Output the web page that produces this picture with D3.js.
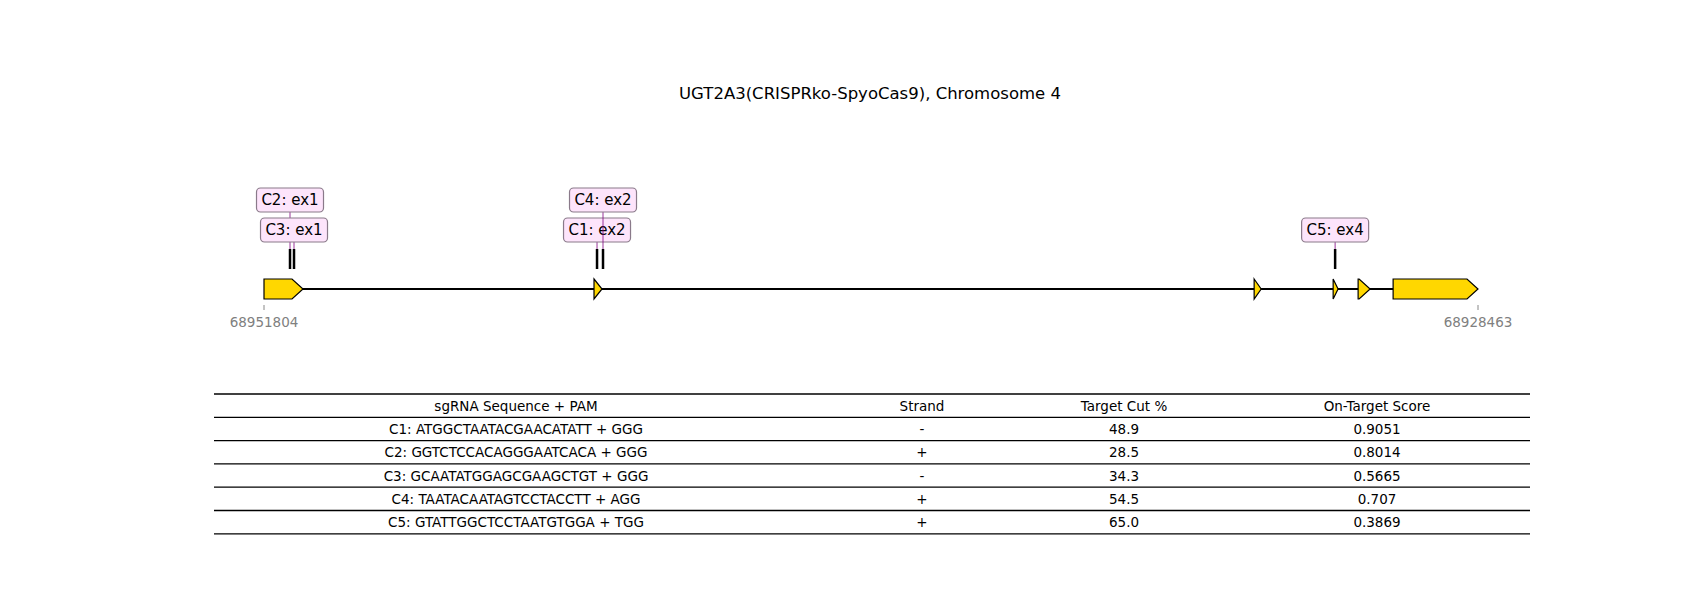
<!DOCTYPE html>
<html><head><meta charset="utf-8">
<script src="https://cdn.jsdelivr.net/npm/d3@7"></script>
<style>body{margin:0;background:#fff}svg{font-family:"DejaVu Sans",sans-serif}</style>
</head><body><svg id="c" width="1700" height="600"></svg>
<script>
const title = "UGT2A3(CRISPRko-SpyoCas9), Chromosome 4";
const geneStart = 68951804, geneEnd = 68928463;
const exonStarts = [68951804, 68945459, 68932767, 68931248, 68930768, 68930095];
const exonEnds   = [68951054, 68945305, 68932632, 68931153, 68930537, 68928463];
const guideIds = ["C1","C2","C3","C4","C5"];
const guideExon = ["ex2","ex1","ex1","ex2","ex4"];
const guideCut = [68945401, 68951304, 68951227, 68945286, 68931210];
const guideLevel = [0,1,0,1,0];
const seqs = ["ATGGCTAATACGAACATATT + GGG","GGTCTCCACAGGGAATCACA + GGG","GCAATATGGAGCGAAGCTGT + GGG","TAATACAATAGTCCTACCTT + AGG","GTATTGGCTCCTAATGTGGA + TGG"];
const strands = ["-","+","-","+","+"];
const cutPct = ["48.9","28.5","34.3","54.5","65.0"];
const scores = ["0.9051","0.8014","0.5665","0.707","0.3869"];
const headers = ["sgRNA Sequence + PAM","Strand","Target Cut %","On-Target Score"];

const svg = d3.select("#c");
const x = d3.scaleLinear().domain([geneStart, geneEnd]).range([264, 1478]);
const yLine = 289;
svg.append("text").attr("x",870).attr("y",99).attr("text-anchor","middle").attr("font-size",16.5).text(title);
svg.append("line").attr("x1",x(geneStart)).attr("x2",x(geneEnd)).attr("y1",yLine).attr("y2",yLine).attr("stroke","#000").attr("stroke-width",1.8);
exonStarts.forEach((s,i)=>{
  const x0=x(s), x1=x(exonEnds[i]), w=x1-x0, tip=Math.min(w,11), h=10;
  const p=`M${x0},${yLine-h}L${x1-tip},${yLine-h}L${x1},${yLine}L${x1-tip},${yLine+h}L${x0},${yLine+h}Z`;
  svg.append("path").attr("d",p).attr("fill","#ffd700").attr("stroke","#000").attr("stroke-width",1.2);
});
[geneStart,geneEnd].forEach(v=>{
  svg.append("line").attr("x1",x(v)).attr("x2",x(v)).attr("y1",305).attr("y2",310).attr("stroke","#888");
  svg.append("text").attr("x",x(v)).attr("y",327).attr("text-anchor","middle").attr("font-size",13.5).attr("fill","#808080").text(v);
});
guideIds.forEach((id,i)=>{
  const cx=x(guideCut[i]);
  const by = guideLevel[i]?188:218, bh=24, bw=67;
  svg.append("line").attr("x1",cx).attr("x2",cx).attr("y1",by+bh).attr("y2",249).attr("stroke","#800080").attr("stroke-width",0.8);
  svg.append("line").attr("x1",cx).attr("x2",cx).attr("y1",249).attr("y2",269).attr("stroke","#000").attr("stroke-width",2.5);
  svg.append("rect").attr("x",cx-bw/2).attr("y",by).attr("width",bw).attr("height",bh).attr("rx",4)
    .attr("fill","#fde4fb").attr("stroke","#8a7a8a").attr("stroke-width",1.2);
  svg.append("text").attr("x",cx).attr("y",by+17).attr("text-anchor","middle").attr("font-size",15).text(id+": "+guideExon[i]);
});
// table
const colX=[516,922,1124,1377], rowH=23.3, tableTop=394;
const rows=[headers].concat(guideIds.map((id,i)=>[id+": "+seqs[i],strands[i],cutPct[i],scores[i]]));
for(let r=0;r<=rows.length;r++){
  svg.append("line").attr("x1",214).attr("x2",1530).attr("y1",tableTop+r*rowH).attr("y2",tableTop+r*rowH).attr("stroke","#000").attr("stroke-width",1.3);
}
rows.forEach((row,r)=>row.forEach((t,c)=>{
  svg.append("text").attr("x",colX[c]).attr("y",tableTop+r*rowH+rowH/2+5).attr("text-anchor","middle").attr("font-size",13.5).text(t);
}));
</script></body></html>
